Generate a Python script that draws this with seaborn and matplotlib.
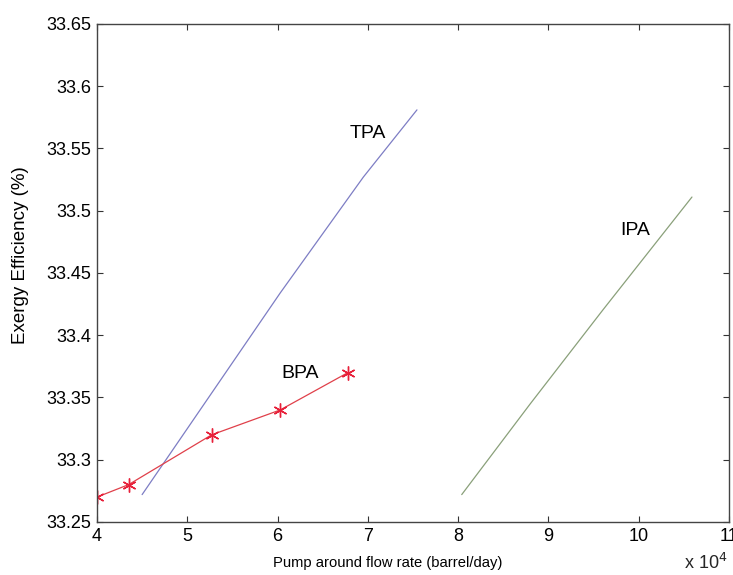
import matplotlib
matplotlib.use("Agg")
import matplotlib.pyplot as plt
import pandas as pd
import seaborn as sns
from matplotlib.ticker import FuncFormatter

# flow rate in units of 1e4 barrel/day, exergy efficiency in %
TPA_FLOW = [4.5, 6.03, 6.95, 7.544]
TPA_EFF = [33.272, 33.434, 33.527, 33.581]
IPA_FLOW = [8.04, 8.8, 9.6, 10.59]
IPA_EFF = [33.272, 33.345, 33.42, 33.511]
BPA_FLOW = [4.0, 4.35, 5.27, 6.03, 6.78]
BPA_EFF = [33.27, 33.28, 33.32, 33.34, 33.37]

X_TICKS = [4, 5, 6, 7, 8, 9, 10, 11]
Y_TICKS = [33.25, 33.3, 33.35, 33.4, 33.45, 33.5, 33.55, 33.6, 33.65]

sns.set_style("white")
plt.rcParams["font.family"] = ["Liberation Sans", "DejaVu Sans"]

fig = plt.figure(figsize=(7.33, 5.75), dpi=100)
ax = fig.add_axes([0.1323, 0.0922, 0.8622, 0.8661])

tpa = pd.DataFrame({"flow": TPA_FLOW, "eff": TPA_EFF})
ipa = pd.DataFrame({"flow": IPA_FLOW, "eff": IPA_EFF})
bpa = pd.DataFrame({"flow": BPA_FLOW, "eff": BPA_EFF})

sns.lineplot(data=tpa, x="flow", y="eff", ax=ax, color="#7d7dc4", linewidth=0.9)
sns.lineplot(data=ipa, x="flow", y="eff", ax=ax, color="#8aa07a", linewidth=0.9)
sns.lineplot(data=bpa, x="flow", y="eff", ax=ax, color="#e0404a", linewidth=0.9,
             marker=(6, 2, 0), markersize=10, markeredgecolor="#e8203a",
             markeredgewidth=1.0)

ax.text(7.0, 33.562, "TPA", fontsize=14, ha="center", va="center", color="black")
ax.text(9.96, 33.484, "IPA", fontsize=14, ha="center", va="center", color="black")
ax.text(6.25, 33.369, "BPA", fontsize=14, ha="center", va="center", color="black")

ax.set_xlim(4, 11)
ax.set_ylim(33.25, 33.65)
ax.set_xticks(X_TICKS)
ax.set_yticks(Y_TICKS)
ax.xaxis.set_major_formatter(FuncFormatter(lambda v, p: f"{v:g}"))
ax.yaxis.set_major_formatter(FuncFormatter(lambda v, p: f"{v:g}"))
ax.tick_params(direction="in", length=4, width=0.8, labelsize=13,
               labelcolor="black", pad=4,
               top=True, right=True, bottom=True, left=True, color="#333333")
for side in ax.spines.values():
    side.set_color("#444444")
    side.set_linewidth(1.0)

ax.set_xlabel("Pump around flow rate (barrel/day)", fontsize=10.6, color="black")
ax.xaxis.set_label_coords(0.46, -0.068)
ax.set_ylabel("Exergy Efficiency (%)", fontsize=13.5, color="black")
ax.yaxis.set_label_coords(-0.107, 0.536)
fig.text(0.933, 0.003, r"x 10$^{4}$", fontsize=13, ha="left", va="bottom")

fig.savefig("out.png", dpi=100)
